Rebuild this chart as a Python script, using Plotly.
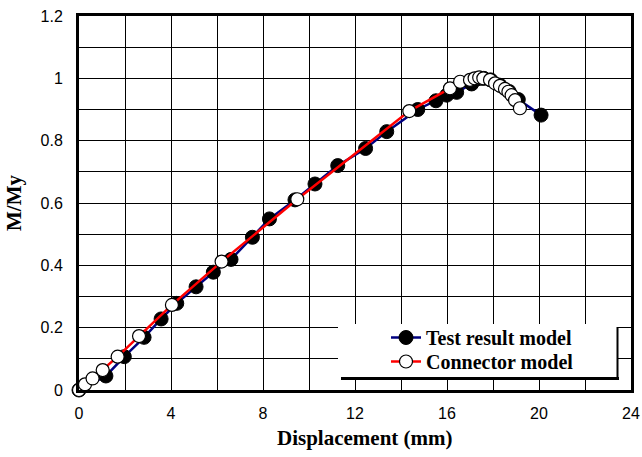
import plotly.graph_objects as go

# ---- data ----
test_x = [0, 1.17, 1.97, 2.83, 3.57, 4.25, 5.09, 5.84, 6.61, 7.54, 8.28, 9.39,
          10.26, 11.25, 12.46, 13.38, 14.73, 15.52, 15.99, 16.42, 17.07, 17.29,
          17.45, 17.6, 17.9, 18.3, 18.7, 19.1, 20.09]
test_y = [0, 0.045, 0.107, 0.169, 0.228, 0.278, 0.331, 0.378, 0.419, 0.49, 0.549, 0.61,
          0.661, 0.72, 0.775, 0.829, 0.90, 0.928, 0.946, 0.955, 0.982, 0.998,
          1.0, 1.0, 0.995, 0.978, 0.958, 0.932, 0.882]

conn_x = [0, 0.26, 0.59, 1.03, 1.68, 2.61, 4.04, 6.2, 9.49, 14.36, 16.13, 16.57,
          17.0, 17.2, 17.4, 17.58, 17.87, 18.09, 18.3, 18.52, 18.67, 18.81, 18.96, 19.17]
conn_y = [0, 0.018, 0.037, 0.064, 0.107, 0.173, 0.273, 0.412, 0.612, 0.895, 0.968, 0.989,
          0.995, 1.0, 1.003, 1.0, 0.995, 0.984, 0.976, 0.966, 0.957, 0.946, 0.93, 0.904]

series_names = ["Test result model", "Connector model"]
x_title = "Displacement (mm)"
y_title = "M/My"

# ---- layout geometry (pixels) ----
W, H = 642, 457
L, R, T, B = 79, 11, 16, 67
PW, PH = W - L - R, H - T - B


def px(xp):
    return (xp - L) / PW


def py(yp):
    return (H - B - yp) / PH


fig = go.Figure()
fig.add_trace(go.Scatter(
    x=test_x, y=test_y, mode="lines+markers", name=series_names[0],
    line=dict(color="#000080", width=2.5),
    marker=dict(symbol="circle", size=14, color="black", line=dict(color="black", width=1)),
    cliponaxis=False, legend="legend",
))
fig.add_trace(go.Scatter(
    x=conn_x, y=conn_y, mode="lines+markers", name=series_names[1],
    line=dict(color="#FF0000", width=2.5),
    marker=dict(symbol="circle", size=13, color="white", line=dict(color="black", width=1.2)),
    cliponaxis=False, legend="legend2",
))

tick_font = dict(family="Liberation Sans, Arial, sans-serif", size=16, color="black")
title_font = dict(family="Liberation Serif, Times New Roman, serif", size=21, color="black", weight="bold")

fig.update_xaxes(
    range=[0, 24], dtick=4, tick0=0, showgrid=True, gridcolor="black", gridwidth=1,
    minor=dict(dtick=2, showgrid=True, gridcolor="black", gridwidth=1),
    showline=True, linecolor="black", linewidth=3, mirror=True,
    ticks="", tickfont=tick_font, ticklabelstandoff=7,
    zeroline=False, automargin=False,
)
fig.update_yaxes(
    range=[0, 1.2], dtick=0.2, tick0=0, showgrid=True, gridcolor="black", gridwidth=1,
    minor=dict(dtick=0.1, showgrid=True, gridcolor="black", gridwidth=1),
    showline=True, linecolor="black", linewidth=3, mirror=True,
    ticks="", tickfont=tick_font, ticklabelstandoff=10,
    title=dict(text=y_title, font=title_font, standoff=14),
    zeroline=False, automargin=False,
)

# legend box with shadow
shapes = [
    dict(type="rect", xref="paper", yref="paper", x0=px(338), x1=px(617), y0=py(379), y1=py(324),
         fillcolor="white", line=dict(width=0), layer="above"),
    dict(type="line", xref="paper", yref="paper", x0=px(617.5), x1=px(617.5), y0=py(380), y1=py(327),
         line=dict(color="black", width=2), layer="above"),
    dict(type="line", xref="paper", yref="paper", x0=px(341), x1=px(619), y0=py(378.5), y1=py(378.5),
         line=dict(color="black", width=3), layer="above"),
]

legend_font = dict(family="Liberation Serif, Times New Roman, serif", size=20, color="black", weight="bold")

fig.update_layout(
    width=W, height=H,
    margin=dict(l=L, r=R, t=T, b=B, autoexpand=False),
    paper_bgcolor="white", plot_bgcolor="white",
    shapes=shapes,
    showlegend=True,
    legend=dict(
        x=px(386), y=py(318), xanchor="left", yanchor="top",
        bgcolor="rgba(0,0,0,0)", borderwidth=0, font=legend_font,
    ),
    legend2=dict(
        x=px(386), y=py(342), xanchor="left", yanchor="top",
        bgcolor="rgba(0,0,0,0)", borderwidth=0, font=legend_font,
    ),
    annotations=[dict(
        text=x_title, xref="paper", yref="paper", x=px(365), y=py(438),
        xanchor="center", yanchor="middle", showarrow=False, font=title_font,
    )],
)

fig.write_html("out.html")
